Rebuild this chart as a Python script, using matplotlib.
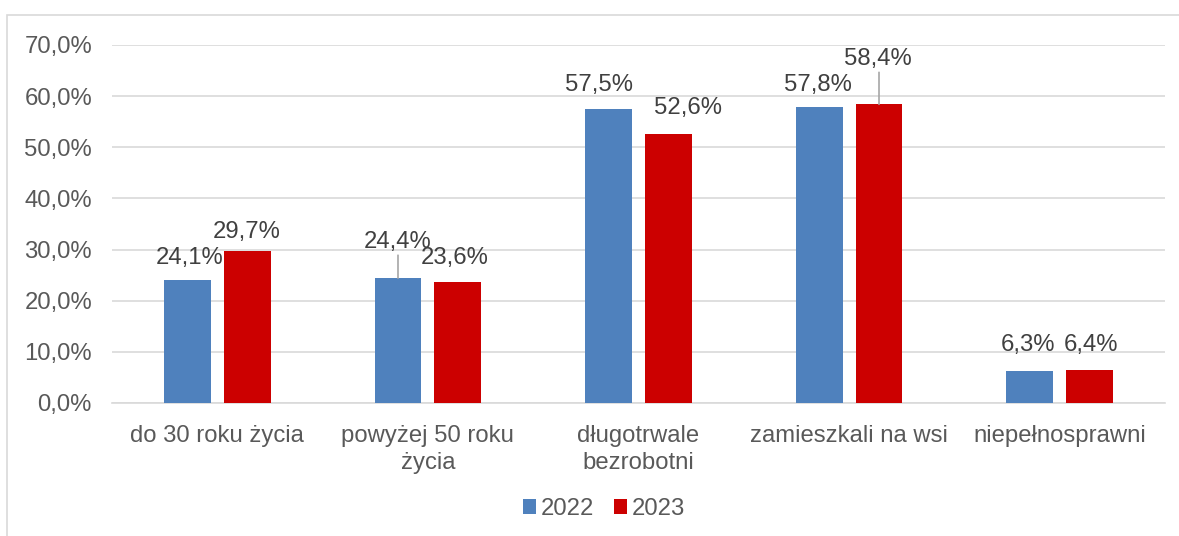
import matplotlib
matplotlib.use("Agg")
import matplotlib.pyplot as plt
from matplotlib.patches import Rectangle
import numpy as np

categories = ["do 30 roku życia", "powyżej 50 roku\nżycia", "długotrwale\nbezrobotni",
              "zamieszkali na wsi", "niepełnosprawni"]
v2022 = [24.1, 24.4, 57.5, 57.8, 6.3]
v2023 = [29.7, 23.6, 52.6, 58.4, 6.4]
years = ["2022", "2023"]

# label offsets in pixels (dx, dy from bar top)
off2022 = [(2, 22), (0, 36), (-10, 24), (-1, 22), (-2, 26)]
off2023 = [(-1, 19), (-3, 24), (20, 26), (-1, 45), (1, 25)]
leader2022 = [False, True, False, False, False]
leader2023 = [False, False, False, True, False]

plt.rcParams['font.family'] = ['Liberation Sans', 'DejaVu Sans']
blue = "#4F81BD"
red = "#CC0000"
tc = "#595959"
lc = "#404040"
fs = 17.2

fig = plt.figure(figsize=(11.79, 5.36), dpi=100)
fig.patches.append(Rectangle((7/1179, -0.1), 1.2, 1 - 15/536 + 0.1, transform=fig.transFigure,
                             fill=False, edgecolor="#D9D9D9", lw=1.2))
ax = fig.add_axes([112/1179, 133/536, (1165-112)/1179, (403-45)/536])

x = np.arange(len(categories))
w = 0.223
d = 0.142
b1 = ax.bar(x - d, v2022, w, color=blue, label=years[0], zorder=3)
b2 = ax.bar(x + d, v2023, w, color=red, label=years[1], zorder=3)

def lab(xs, vals, offs, leaders):
    for xi, v, (dx, dy), ld in zip(xs, vals, offs, leaders):
        ax.annotate(f"{v:.1f}%".replace(".", ","), (xi, v), xytext=(dx, dy),
                    textcoords="offset pixels", ha="center", va="center",
                    fontsize=fs, color=lc, zorder=5)
        if ld:
            ax.annotate("", (xi, v), xytext=(0, dy - 13), textcoords="offset pixels",
                        arrowprops=dict(arrowstyle="-", color="#A6A6A6", lw=1.2,
                                        shrinkA=0, shrinkB=0), zorder=4)

lab(x - d, v2022, off2022, leader2022)
lab(x + d, v2023, off2023, leader2023)

ax.set_xlim(-0.5, len(categories) - 0.5)
ax.set_ylim(0, 70)
ax.set_yticks(np.arange(0, 71, 10))
ax.set_yticklabels([f"{t:.1f}%".replace(".", ",") for t in np.arange(0, 71, 10)])
ax.set_xticks(x)
ax.set_xticklabels(categories, linespacing=1.35)
ax.tick_params(axis="both", length=0, labelsize=fs, labelcolor=tc)
ax.tick_params(axis="y", pad=14.4)
ax.tick_params(axis="x", pad=15.5)
ax.grid(axis="y", color="#D9D9D9", lw=1.2, zorder=0)
for s in ["top", "right", "left"]:
    ax.spines[s].set_visible(False)
ax.spines["bottom"].set_color("#D9D9D9")
ax.spines["bottom"].set_linewidth(1.2)

fig.legend(handles=[b1, b2], labels=years, loc="center", bbox_to_anchor=(604/1179, 1 - 509/536),
           ncol=2, frameon=False, fontsize=fs, labelcolor=tc, handlelength=0.54,
           handleheight=0.54, handletextpad=0.2, columnspacing=0.8)

fig.savefig("out.png", dpi=100)
